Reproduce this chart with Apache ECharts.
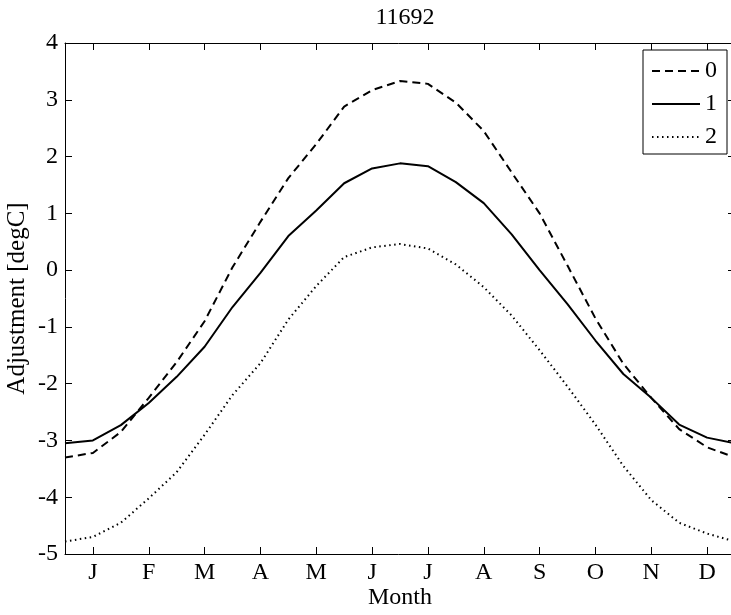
<!DOCTYPE html>
<html lang="en">
<head>
    <meta charset="UTF-8"/>
    <title>11692</title>
    <script type="text/javascript" src="https://cdn.jsdelivr.net/npm/echarts@6/dist/echarts.min.js"></script>
    <style>
        html, body {margin: 0; padding: 0; background: #fff;}
        #chart {width: 731px; height: 615px;}
    </style>
</head>
<body>
<div id="chart"></div>
<script type="text/javascript">
    // half-month positions (1 = J, 12 = D)
    var monthPos = [0.5, 1, 1.5, 2, 2.5, 3, 3.5, 4, 4.5, 5, 5.5, 6, 6.5, 7, 7.5, 8, 8.5, 9, 9.5, 10, 10.5, 11, 11.5, 12, 12.5];
    var monthLabels = ['J', 'F', 'M', 'A', 'M', 'J', 'J', 'A', 'S', 'O', 'N', 'D'];
    var monthTicks = [1, 2, 3, 4, 5, 6, 7, 8, 9, 10, 11, 12];

    var series0 = [-3.3, -3.22, -2.85, -2.25, -1.62, -0.9, 0.05, 0.85, 1.62, 2.22, 2.88, 3.17, 3.33, 3.28, 2.95, 2.45, 1.72, 1.0, 0.08, -0.85, -1.65, -2.25, -2.8, -3.12, -3.3];
    var series1 = [-3.05, -3.0, -2.73, -2.34, -1.88, -1.35, -0.65, -0.05, 0.6, 1.05, 1.53, 1.79, 1.88, 1.83, 1.55, 1.18, 0.63, 0.0, -0.6, -1.24, -1.83, -2.25, -2.72, -2.95, -3.05];
    var series2 = [-4.78, -4.7, -4.45, -4.02, -3.56, -2.9, -2.2, -1.64, -0.87, -0.28, 0.23, 0.4, 0.46, 0.38, 0.1, -0.3, -0.8, -1.41, -2.05, -2.72, -3.45, -4.05, -4.45, -4.64, -4.78];

    var seriesNames = ['0', '1', '2'];

    function pairs(ys) {
        var out = [];
        for (var i = 0; i < ys.length; i++) {
            out.push([monthPos[i], ys[i]]);
        }
        return out;
    }

    var font = 'Liberation Serif';
    var fs = 24;
    var chart = echarts.init(document.getElementById('chart'));

    var axisX = function (pos, showLabel) {
        return {
            type: 'value',
            position: pos,
            min: 0.5,
            max: 12.5,
            splitLine: {show: false},
            axisLine: {show: true, onZero: false, lineStyle: {color: '#000', width: 1}},
            axisTick: {show: true, inside: true, length: 7, customValues: monthTicks, lineStyle: {color: '#000'}},
            axisLabel: {
                show: showLabel,
                customValues: monthTicks,
                margin: 7,
                color: '#000',
                fontFamily: font,
                fontSize: fs,
                formatter: function (v) { return monthLabels[Math.round(v) - 1]; }
            }
        };
    };
    var axisY = function (pos, showLabel) {
        return {
            type: 'value',
            position: pos,
            min: -5,
            max: 4,
            interval: 1,
            splitLine: {show: false},
            axisLine: {show: true, onZero: false, lineStyle: {color: '#000', width: 1}},
            axisTick: {show: true, inside: true, length: 7, lineStyle: {color: '#000'}},
            axisLabel: {show: showLabel, margin: 7, color: '#000', fontFamily: font, fontSize: fs}
        };
    };

    var xBottom = axisX('bottom', true);
    xBottom.name = 'Month';
    xBottom.nameLocation = 'middle';
    xBottom.nameGap = 32;
    xBottom.nameMoveOverlap = false;
    xBottom.nameTextStyle = {color: '#000', fontFamily: font, fontSize: fs};

    var yLeft = axisY('left', true);
    yLeft.name = 'Adjustment [degC]';
    yLeft.nameLocation = 'middle';
    yLeft.nameGap = 35;
    yLeft.nameMoveOverlap = false;
    yLeft.nameTextStyle = {color: '#000', fontFamily: font, fontSize: 25};

    var styles = [
        {type: [8, 5], width: 2},
        {type: 'solid', width: 2},
        {type: [1.5, 3.5], width: 2}
    ];
    var values = [series0, series1, series2];
    var seriesList = [];
    for (var i = 0; i < values.length; i++) {
        seriesList.push({
            name: seriesNames[i],
            type: 'line',
            data: pairs(values[i]),
            symbol: 'none',
            smooth: false,
            lineStyle: {color: '#000', width: styles[i].width, type: styles[i].type},
            itemStyle: {color: '#000'}
        });
    }

    var option = {
        backgroundColor: '#fff',
        animation: false,
        title: {
            text: '11692',
            left: 400,
            textAlign: 'center',
            top: 1,
            textStyle: {color: '#000', fontFamily: font, fontSize: fs, fontWeight: 'normal'}
        },
        legend: {
            data: seriesNames,
            orient: 'vertical',
            left: 643,
            top: 50,
            backgroundColor: '#fff',
            borderColor: '#000',
            borderWidth: 1,
            padding: [9, 10, 5, 8],
            itemWidth: 48,
            itemHeight: 16,
            itemGap: 9,
            itemStyle: {opacity: 0},
            textStyle: {color: '#000', fontFamily: font, fontSize: fs}
        },
        grid: {left: 65, top: 43, width: 670, height: 511, outerBoundsMode: 'none', containLabel: false},
        xAxis: [xBottom, axisX('top', false)],
        yAxis: [yLeft, axisY('right', false)],
        series: seriesList
    };
    chart.setOption(option);
</script>
</body>
</html>
